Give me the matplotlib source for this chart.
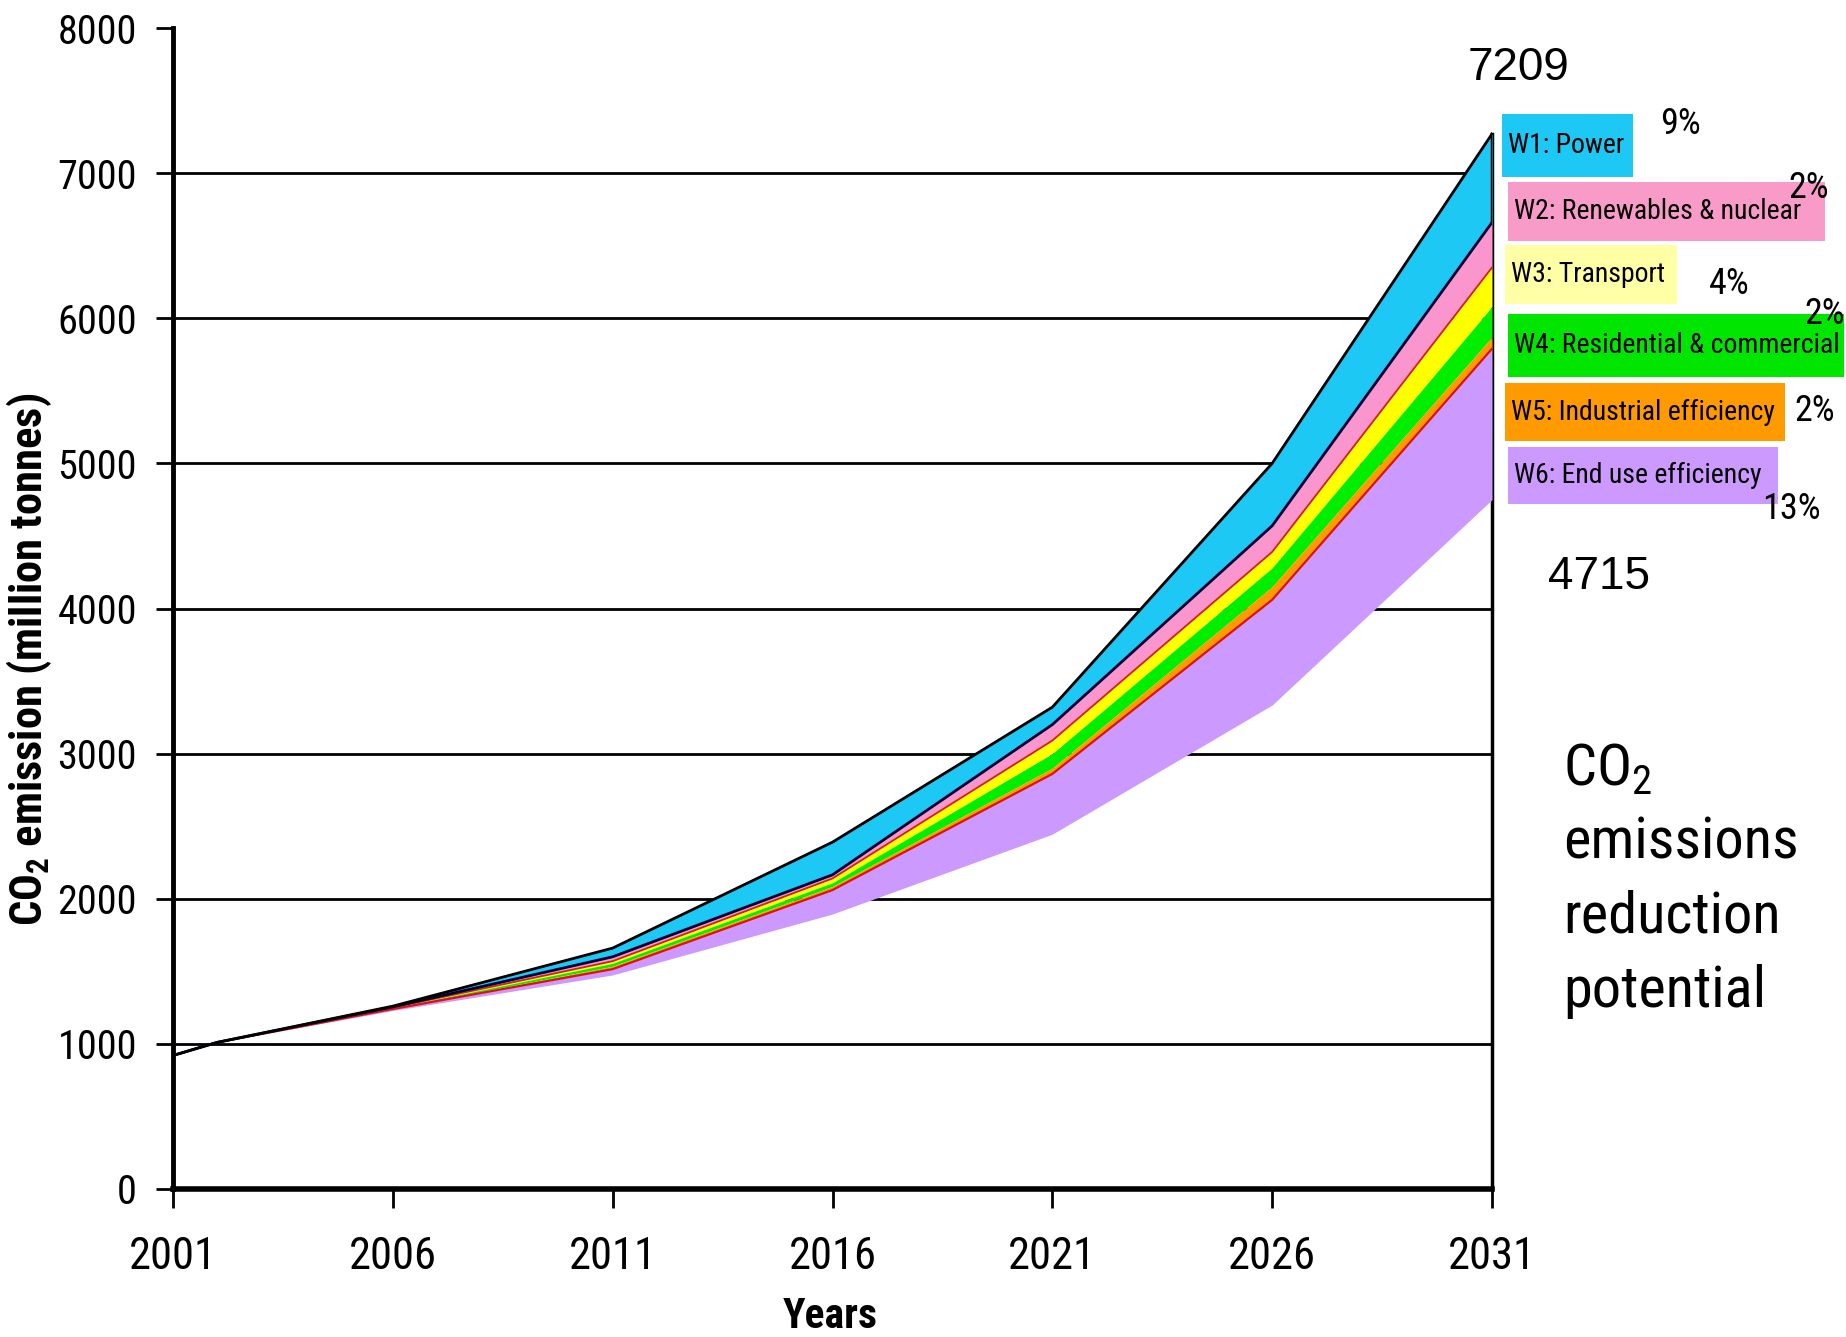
# -*- coding: utf-8 -*-

import matplotlib
matplotlib.use('Agg')
import matplotlib.pyplot as plt
import matplotlib.patches as patches
from matplotlib import font_manager

# Years and the stacked boundaries (million tonnes CO2).
years = [2001, 2002, 2006, 2011, 2016, 2021, 2026, 2031]
total = [920, 1010, 1260, 1660, 2390, 3320, 5000, 7270]      # baseline
after_w1 = [920, 1010, 1255, 1600, 2165, 3200, 4570, 6660]   # below power
after_w2 = [920, 1010, 1250, 1570, 2140, 3090, 4390, 6350]   # below renewables
after_w3 = [920, 1010, 1247, 1555, 2110, 3000, 4280, 6080]   # below transport
after_w4 = [920, 1010, 1243, 1535, 2085, 2900, 4150, 5870]   # below residential
after_w5 = [920, 1010, 1240, 1515, 2060, 2860, 4060, 5790]   # below industrial
after_w6 = [920, 1010, 1230, 1475, 1895, 2445, 3335, 4750]   # below end use

wedge_labels = ['W1: Power', 'W2: Renewables & nuclear', 'W3: Transport',
                'W4: Residential & commercial', 'W5: Industrial efficiency',
                'W6: End use efficiency']
wedge_pct = ['9%', '2%', '4%', '2%', '2%', '13%']
fill_colors = ['#1ec8f5', '#fa96cd', '#ffff00', '#00ef00', '#ff9a00', '#cc99ff']
box_colors = ['#1ec8f5', '#f99bc9', '#ffffa6', '#00e600', '#ff9a00', '#cc99ff']

value_top = '7209'
value_bottom = '4715'

# Pick a narrow face if one is installed.
installed = set(f.name for f in font_manager.fontManager.ttflist)
narrow_pref = ['Liberation Sans Narrow', 'Roboto Condensed', 'Open Sans Condensed',
               'DejaVu Sans Condensed', 'Noto Sans Condensed', 'Roboto']
narrow = [n for n in narrow_pref if n in installed] + ['DejaVu Sans']
k = 1.0 if narrow[0] != 'DejaVu Sans' else 0.8
plt.rcParams['font.family'] = narrow
plt.rcParams['mathtext.default'] = 'regular'

W, H = 1846, 1337
fig = plt.figure(figsize=(W / 100., H / 100.), dpi=100)
fig.patch.set_facecolor('white')

def fx(px):
    return px / float(W)

def fy(py):
    return 1 - py / float(H)

ax = fig.add_axes([fx(173), fy(1189), fx(1492) - fx(173), fy(28) - fy(1189)])

# Stacked wedges, top to bottom.
bounds = [total, after_w1, after_w2, after_w3, after_w4, after_w5, after_w6]
for i in range(6):
    ax.fill_between(years, bounds[i + 1], bounds[i], color=fill_colors[i],
                    lw=0, zorder=3)

# Outlines between wedges (red ones first so black stays on top).
ax.plot(years, after_w5, color='#dd1111', lw=1.6, zorder=4)
ax.plot(years, after_w2, color='#cc2222', lw=1.3, zorder=4)
ax.plot(years, after_w1, color='#000033', lw=2, zorder=4)
ax.plot(years, total, color='black', lw=2, zorder=4)
ax.plot([years[-1], years[-1]], [after_w1[-1], total[-1]], color='black',
        lw=2.5, zorder=4)

# Right edge line, only up to the baseline end (hidden by the wedges).
ax.plot([years[-1], years[-1]], [0, total[-1]], color='black', lw=2.5,
        zorder=2, clip_on=False)

# Horizontal grid lines.
for v in range(1000, 8000, 1000):
    ax.axhline(v, color='black', lw=2, zorder=1)

ax.set_xlim(2001, 2031)
ax.set_ylim(0, 8000)
ax.set_xticks(range(2001, 2032, 5))
ax.set_yticks(range(0, 8001, 1000))
ax.tick_params(axis='y', direction='out', length=12, width=2, pad=14,
               labelsize=29 * k)
ax.tick_params(axis='x', direction='out', length=14, width=2, pad=20,
               labelsize=32 * k)

ax.spines['top'].set_visible(False)
ax.spines['right'].set_visible(False)
ax.spines['left'].set_linewidth(3.5)
ax.spines['bottom'].set_linewidth(4)
for s in ax.spines.values():
    s.set_zorder(2)

fig.text(fx(830), fy(1316), 'Years', fontsize=30 * k, fontweight='bold',
         ha='center', va='center')
fig.text(fx(29), fy(659), 'CO$_2$ emission (million tonnes)', rotation=90,
         fontsize=32 * k, fontweight='bold', ha='center', va='center')

# Wedge boxes on the right.
box_x = [(1502, 1633), (1508, 1825), (1505, 1677), (1508, 1844),
         (1505, 1785), (1508, 1778)]
box_y = [(114, 177), (182, 241), (245, 304), (314, 377), (383, 441),
         (447, 504)]
pct_xy = [(1680, 124), (1809, 188), (1729, 284), (1825, 314), (1815, 411),
          (1791, 509)]
for i in range(6):
    x0, x1 = box_x[i]
    y0, y1 = box_y[i]
    fig.patches.append(patches.Rectangle((fx(x0), fy(y1)), fx(x1) - fx(x0),
                       fy(y0) - fy(y1), transform=fig.transFigure,
                       facecolor=box_colors[i], edgecolor='none', zorder=5))
    fig.text(fx(x0 + 6), fy((y0 + y1) / 2.), wedge_labels[i],
             fontsize=20 * k, ha='left', va='center', zorder=6)
    fig.text(fx(pct_xy[i][0]), fy(pct_xy[i][1]), wedge_pct[i],
             fontsize=26 * k, ha='center', va='center', zorder=7)

fig.text(fx(1519), fy(68), value_top, fontsize=33, ha='center', va='center',
         family='Liberation Sans')
fig.text(fx(1599), fy(577), value_bottom, fontsize=33, ha='center',
         va='center', family='Liberation Sans')

fig.text(fx(1563), fy(742), 'CO$_2$\nemissions\nreduction\npotential',
         fontsize=42 * k, ha='left', va='top', linespacing=1.44)

fig.savefig('out.png', dpi=100, facecolor='white')
